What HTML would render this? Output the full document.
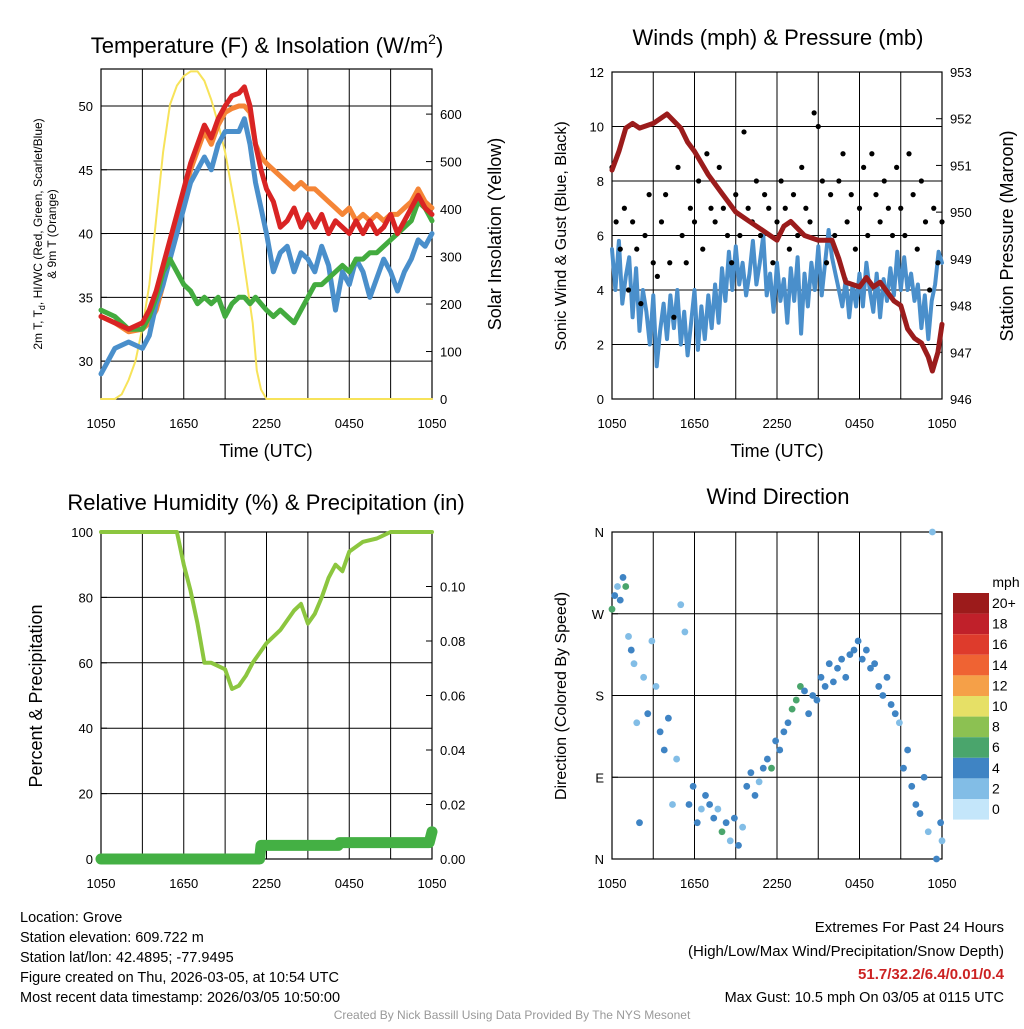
<!DOCTYPE html>
<html><head><meta charset="utf-8">
<style>
body{margin:0;background:#fff;}
svg text{font-family:"Liberation Sans",sans-serif;fill:#000;}
</style></head>
<body>
<svg id="s" width="1024" height="1024" viewBox="0 0 1024 1024" xmlns="http://www.w3.org/2000/svg">
</svg>
<script>
// ---------- DATA ----------
const xTickLabels=["1050","1650","2250","0450","1050"];
// Temperature panel (hours since 1050 UTC)
const tempHours=[0,1,2,3,3.5,4,4.5,5,5.5,6,6.5,7,7.5,8,8.5,9,9.5,10,10.4,10.8,11.2,11.6,12,12.5,13,13.5,14,14.5,15,15.5,16,16.5,17,17.5,18,18.5,19,19.5,20,20.5,21,21.5,22,22.5,23,23.5,24];
const redTemp=[33.5,33,32.5,33,34,35.5,37.5,39.5,41.5,43.5,45.5,47,48.5,47.5,49,50,50.8,51,51.5,50,47,45,43.5,42.5,40.5,41,42,40.5,41.5,40.5,41.5,40,41,40.5,40,41,40,41,40,40.5,41.5,40,41,42,43,42,41.5];
const orangeTemp=[33.5,33,32.3,32.5,33,34,36,39,41,43,45,46.5,48,47,48.5,49.5,49.8,50,50,49.5,47,46,45.5,45,44.5,44,43.5,44,43.5,43.5,43,42.5,42,41.5,42,41,41.5,41,41.5,41,41.5,41.5,42,42.5,43.5,42.5,42];
const blueTemp=[29,31,31.5,31,32,34.5,36,38,40,42,44,45,46,45,47,48,48,48,49,47,44,42,40,37,38.5,39,37,38.5,38,37,39,37.5,34,37,36,38,37,35,36.5,38,37,35.5,37,38,39.5,39,40];
const greenTemp=[34,33.5,32.5,32.5,33.5,35,37,38,37,36,35.5,34.5,35,34.5,35,33.5,34.5,35,35,34.5,35,34.5,34,33.5,34,33.5,33,34,35,36,36,36.5,37,37.5,37,38,38,38.5,38.5,39,39.5,40,40.5,41,42.5,42,41];
const solarHours=[0,1,1.5,2,2.5,3,3.5,4,4.5,5,5.5,6,6.5,7,7.5,8,8.5,9,9.5,10,10.5,11,11.3,11.6,12,24];
const solarValues=[0,0,10,40,80,150,240,380,520,620,660,680,690,690,670,630,580,520,440,360,260,160,60,20,0,0];
// Winds panel (sonic wind every 15 min)
const sonicWind=[5.5,4,5.8,3.5,4.5,5.2,3,4.8,2.5,4,3.2,2,3.8,1.2,2.5,3.5,2.2,3.8,2.6,4,2,3.2,1.6,2.8,4,1.8,3.4,2.2,3.8,2.6,4.2,2.8,4.8,3.6,5.4,4,5.6,4.2,5,3.8,4.6,5.8,4.2,5,6,3.8,4.6,3.2,5,3.6,4.4,2.8,4.8,3.6,5.2,2.4,4.6,3.4,5,4,5.6,3.8,5,6.2,5.2,4.6,4,3.4,4.4,3,4.2,3.4,4.6,3.4,5,4,3.2,4.6,3,4.4,3.6,4.8,3.8,5.4,4,5.2,4,4.6,3.6,4.2,2.6,3.8,2.2,3.6,4.2,5.4,5];
const gustHours=[0,0.3,0.6,0.9,1.2,1.5,1.8,2.1,2.4,2.7,3,3.3,3.6,3.9,4.2,4.5,4.8,5.1,5.4,5.7,6,6.3,6.6,6.9,7.2,7.5,7.8,8.1,8.4,8.7,9,9.3,9.6,9.9,10.2,10.5,10.8,11.1,11.4,11.7,12,12.3,12.6,12.9,13.2,13.5,13.8,14.1,14.4,14.7,15,15.3,15.6,15.9,16.2,16.5,16.8,17.1,17.4,17.7,18,18.3,18.6,18.9,19.2,19.5,19.8,20.1,20.4,20.7,21,21.3,21.6,21.9,22.2,22.5,22.8,23.1,23.4,23.7,24];
const gustValues=[8.5,6.5,5.5,7,4,6.5,5.5,3.5,6,7.5,5,4.5,6.5,7.5,5,3,8.5,6,5,7,6.5,8,5.5,9,7,6.5,8.5,7,6,5,7.5,6,9.8,7,6.5,8,6,7.5,7,5,6.5,8,7,5.5,7.5,6,8.5,7,6.5,10.5,10,8,5,7.5,6,8,9,6.5,7.5,5.5,7,8.5,6,9,7.5,6.5,8,7,6,8.5,7,6,9,7.5,5.5,8,6.5,4,7,5,6.5];
const pressHours=[0,0.5,1,1.5,2,3,4,5,5.5,6,7,8,8.5,9,10,11,12,12.5,13,14,15,16,16.5,17,18,18.5,19,19.5,20,20.5,21,21.5,22,22.5,23,23.3,23.7,24];
const pressure=[950.9,951.3,951.8,951.9,951.8,951.9,952.1,951.8,951.5,951.3,950.8,950.4,950.2,950.0,949.8,949.6,949.4,949.7,949.8,949.5,949.4,949.4,949.0,948.5,948.4,948.6,948.4,948.5,948.3,948.1,948.0,947.5,947.3,947.2,946.9,946.6,947.0,947.6];
// RH panel
const rhHours=[0,5.5,6,6.5,7,7.5,8,9,9.5,10,10.5,11,11.5,12,13,14,14.5,15,15.5,16,16.5,17,17.5,18,19,20,21,22,24];
const rhValues=[100,100,90,82,72,60,60,58,52,53,56,60,63,66,70,76,78,72,75,80,86,90,88,94,97,98,100,100,100];
const precipHours=[0,11.5,11.6,17.2,17.3,23.8,24];
const precipValues=[0,0,0.005,0.005,0.006,0.006,0.01];
// Wind direction panel
const dirHours=[0,0.2,0.4,0.6,0.8,1,1.2,1.4,1.6,1.8,2,2.3,2.6,2.9,3.2,3.5,3.8,4.1,4.4,4.7,5,5.3,5.6,5.9,6.2,6.5,6.8,7.1,7.4,7.7,8,8.3,8.6,8.9,9.2,9.5,9.8,10.1,10.4,10.7,11,11.3,11.6,11.9,12.2,12.5,12.8,13.1,13.4,13.7,14,14.3,14.6,14.9,15.2,15.5,15.8,16.1,16.4,16.7,17,17.3,17.6,17.9,18.2,18.5,18.8,19.1,19.4,19.7,20,20.3,20.6,20.9,21.2,21.5,21.8,22.1,22.4,22.7,23,23.3,23.6,23.9,24];
const dirValues=[275,290,300,285,310,300,245,230,215,150,40,200,160,240,190,140,120,155,60,110,280,250,60,80,40,55,70,60,45,55,30,40,20,45,15,35,80,95,70,85,100,110,100,130,120,140,150,165,175,190,185,160,180,175,200,190,215,195,210,220,200,225,230,240,220,230,210,215,190,180,200,170,160,150,100,120,80,60,50,90,30,360,0,40,20];
const dirSpeed=[6,3,2,4,3,5,2,3,1,2,3,2,3,2,1,3,4,3,2,2,1,2,3,4,3,2,3,4,3,2,6,3,2,3,4,2,3,3,4,2,3,4,5,3,4,3,4,5,6,5,4,3,4,3,4,4,3,4,3,4,4,3,4,4,3,4,3,4,4,3,4,4,3,2,4,3,4,4,4,3,2,2,4,4,2];
const cbLabels=["20+","18","16","14","12","10","8","6","4","2","0"];
const cbColors=["#9c1b1b","#c0202a","#de3b2c","#ef6333","#f5a048","#e6e066","#8cc152","#4aa56c","#3f84c4","#82bde6","#c4e6fa"];

// ---------- HELPERS ----------
const S=document.getElementById('s');
const NS="http://www.w3.org/2000/svg";
function el(tag,attrs,parent){const e=document.createElementNS(NS,tag);for(const k in attrs)e.setAttribute(k,attrs[k]);(parent||S).appendChild(e);return e;}
function txt(x,y,str,size,anchor,extra){const t=el('text',Object.assign({x:x,y:y,'font-size':size,'text-anchor':anchor||'middle'},extra||{}));t.textContent=str;return t;}
function linScale(d0,d1,r0,r1){return v=>r0+(v-d0)/(d1-d0)*(r1-r0);}

function frame(name,x0,y0,x1,y1){
  const g=el('g',{});
  
  
  for(let i=0;i<=8;i++){const x=x0+(x1-x0)*i/8;el('line',{x1:x,y1:y0,x2:x,y2:y1,stroke:'#000','stroke-width':1},g);}
  el('rect',{x:x0,y:y0,width:x1-x0,height:y1-y0,fill:'none',stroke:'#000','stroke-width':1.2},g);
  xTickLabels.forEach((l,i)=>{const x=x0+(x1-x0)*i/4;const t=txt(x,y1+29,l,13);});
  return g;
}
function yTicks(vals,labels,sc,x0,x1,side,grid){
  vals.forEach((v,i)=>{const y=sc(v);
    if(grid)el('line',{x1:x0,y1:y,x2:x1,y2:y,stroke:'#000','stroke-width':1});
    if(side==='l'){el('line',{x1:x0,y1:y,x2:x0+6,y2:y,stroke:'#000'});const t=txt(x0-8,y+5,labels[i],13,'end');}
    else{el('line',{x1:x1,y1:y,x2:x1-6,y2:y,stroke:'#000'});const t=txt(x1+8,y+5,labels[i],13,'start');}
  });
}
function line(xs,ys,xsc,ysc,color,w,name){
  const d=xs.map((x,i)=>(i?'L':'M')+xsc(x).toFixed(1)+','+ysc(ys[i]).toFixed(1)).join('');
  const p=el('path',{d:d,fill:'none',stroke:color,'stroke-width':w,'stroke-linejoin':'round','stroke-linecap':'round'});
  
  
  return p;
}

// ---------- PANEL 1: Temperature ----------
{const x0=101,x1=432,y0=69,y1=399;
 const xs=linScale(0,24,x0,x1), ys=linScale(27.03,52.9,y1,y0), ys2=linScale(0,695,y1,y0);
 frame('temperature-panel',x0,y0,x1,y1);
 yTicks([30,35,40,45,50],["30","35","40","45","50"],ys,x0,x1,'l',true);
 yTicks([0,100,200,300,400,500,600],["0","100","200","300","400","500","600"],ys2,x0,x1,'r',false);
 line(solarHours,solarValues,xs,ys2,'#f7e35a',2,'solar-insolation-line');
 line(tempHours,orangeTemp,xs,ys,'#f58536',5,'9m-temp-line');
 line(tempHours,blueTemp,xs,ys,'#4a8fcb',5,'heat-index-windchill-line');
 line(tempHours,greenTemp,xs,ys,'#43ab3f',5,'dewpoint-line');
 line(tempHours,redTemp,xs,ys,'#d92424',5,'2m-temp-line');
 let t=txt(267,53,'',22);t.innerHTML='Temperature (F) &amp; Insolation (W/m<tspan dy="-9" font-size="14">2</tspan><tspan dy="9">)</tspan>';
 
 t=txt(266,457,'Time (UTC)',18);
 t=el('text',{transform:'translate(42,234) rotate(-90)','font-size':12,'text-anchor':'middle'});
 t.innerHTML='2m T, T<tspan dy="3" font-size="9">d</tspan><tspan dy="-3">, HI/WC (Red, Green, Scarlet/Blue)</tspan>';
 
 t=txt(0,0,'& 9m T (Orange)',12,'middle',{transform:'translate(56,234) rotate(-90)'});
 t=txt(0,0,'Solar Insolation (Yellow)',18,'middle',{transform:'translate(501,234) rotate(-90)'});
}
// ---------- PANEL 2: Winds ----------
{const x0=612,x1=942,y0=72,y1=399;
 const xs=linScale(0,24,x0,x1), ys=linScale(0,12,y1,y0), ys2=linScale(946,953,y1,y0);
 const xw=linScale(0,sonicWind.length-1,x0,x1);
 frame('winds-panel',x0,y0,x1,y1);
 yTicks([0,2,4,6,8,10,12],["0","2","4","6","8","10","12"],ys,x0,x1,'l',true);
 yTicks([946,947,948,949,950,951,952,953],["946","947","948","949","950","951","952","953"],ys2,x0,x1,'r',false);
 line(sonicWind.map((v,i)=>i),sonicWind,xw,ys,'#4a8fcb',4,'sonic-wind-line');
 gustHours.forEach((h,i)=>{const c=el('circle',{cx:xs(h),cy:ys(gustValues[i]),r:2.6,fill:'#000'});
   });
 line(pressHours,pressure,xs,ys2,'#9b1c1c',5,'pressure-line');
 let t=txt(778,45,'Winds (mph) & Pressure (mb)',22);
 t=txt(777,457,'Time (UTC)',18);
 t=txt(0,0,'Sonic Wind & Gust (Blue, Black)',16,'middle',{transform:'translate(566,236) rotate(-90)'});
 t=txt(0,0,'Station Pressure (Maroon)',18,'middle',{transform:'translate(1013,236) rotate(-90)'});
}
// ---------- PANEL 3: RH ----------
{const x0=101,x1=432,y0=532,y1=859;
 const xs=linScale(0,24,x0,x1), ys=linScale(0,100,y1,y0), ys2=linScale(0,0.12,y1,y0);
 frame('humidity-panel',x0,y0,x1,y1);
 yTicks([0,20,40,60,80,100],["0","20","40","60","80","100"],ys,x0,x1,'l',true);
 yTicks([0,0.02,0.04,0.06,0.08,0.1],["0.00","0.02","0.04","0.06","0.08","0.10"],ys2,x0,x1,'r',false);
 line(rhHours,rhValues,xs,ys,'#8cc63f',4,'rh-line');
 line(precipHours,precipValues,xs,ys2,'#44b044',11,'precip-line');
 let t=txt(266,510,'Relative Humidity (%) & Precipitation (in)',22);
 t=txt(0,0,'Percent & Precipitation',18,'middle',{transform:'translate(42,696) rotate(-90)'});
}
// ---------- PANEL 4: Wind direction ----------
{const x0=612,x1=942,y0=532,y1=859;
 const xs=linScale(0,24,x0,x1), ys=linScale(0,360,y1,y0);
 frame('wind-direction-panel',x0,y0,x1,y1);
 yTicks([0,90,180,270,360],["N","E","S","W","N"],ys,x0,x1,'l',true);
 dirHours.forEach((h,i)=>{const c=el('circle',{cx:xs(h),cy:ys(dirValues[i]),r:3.4,fill:cbColors[10-Math.min(10,Math.round(dirSpeed[i]/2))]});
   });
 let t=txt(778,504,'Wind Direction',22);
 t=txt(0,0,'Direction (Colored By Speed)',16,'middle',{transform:'translate(566,696) rotate(-90)'});
 t=txt(1006,587,'mph',14);
 cbColors.forEach((c,i)=>{const r=el('rect',{x:953,y:593+i*20.6,width:36,height:20.6,fill:c});
   
   const l=txt(992,608+i*20.6,cbLabels[i],14,'start');});
}
// ---------- Footer ----------
["Location: Grove","Station elevation: 609.722 m","Station lat/lon: 42.4895; -77.9495","Figure created on Thu, 2026-03-05, at 10:54 UTC","Most recent data timestamp: 2026/03/05 10:50:00"].forEach((s,i)=>{
 const t=txt(20,922+i*20,s,14.5,'start');});
let f=txt(1004,932,'Extremes For Past 24 Hours',15,'end');
f=txt(1004,956,'(High/Low/Max Wind/Precipitation/Snow Depth)',15,'end');
f=txt(1004,979,'51.7/32.2/6.4/0.01/0.4',15,'end',{'font-weight':'bold',style:'fill:#cc2222'});
f=txt(1004,1002,'Max Gust: 10.5 mph On 03/05 at 0115 UTC',14.5,'end');
f=txt(512,1019,'Created By Nick Bassill Using Data Provided By The NYS Mesonet',12,'middle',{style:'fill:#999'});
</script>
</body></html>
